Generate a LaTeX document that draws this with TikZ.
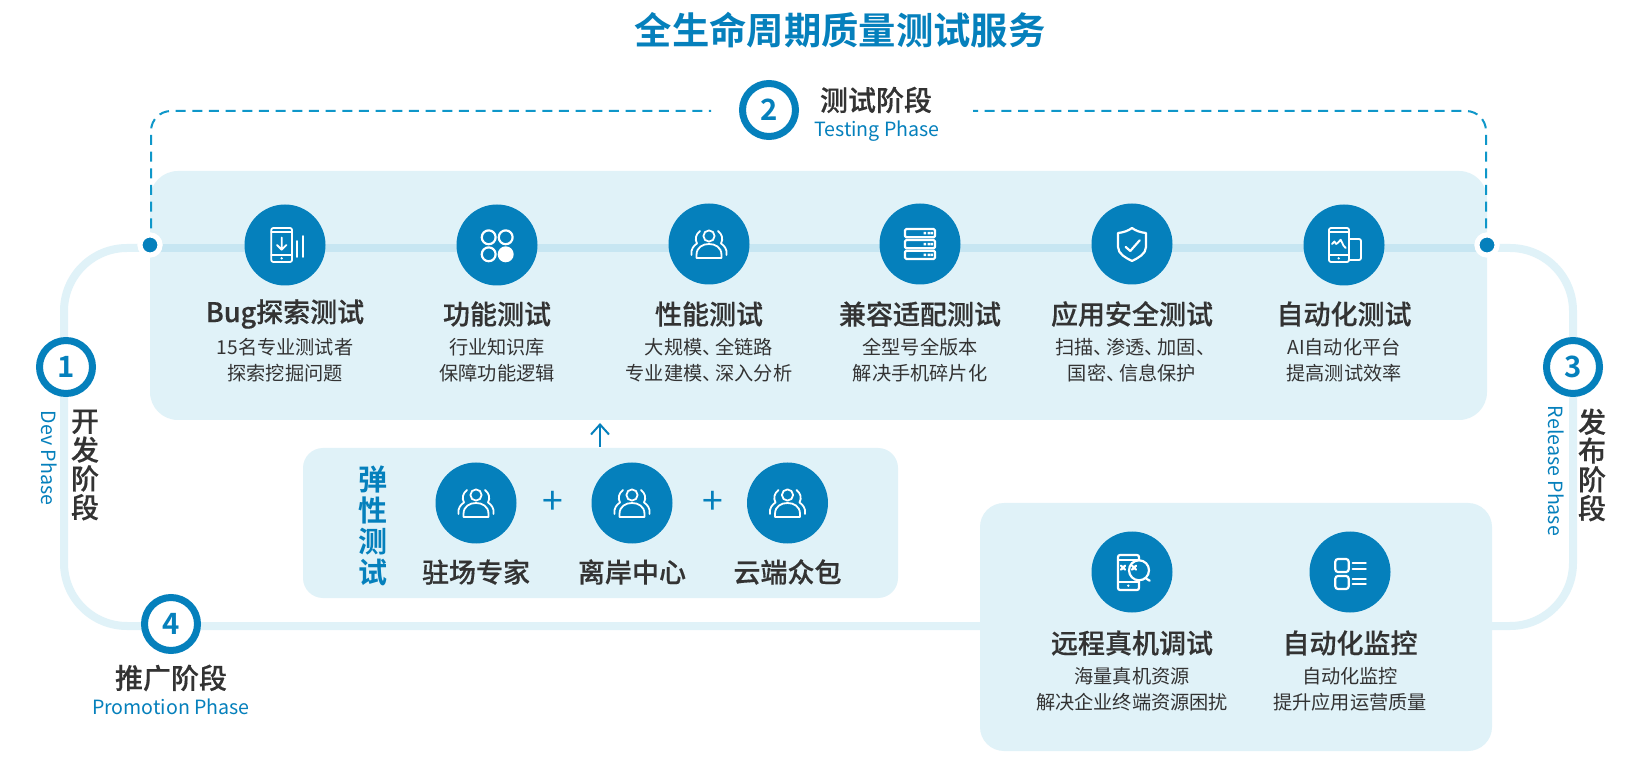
\documentclass[tikz,border=0pt]{standalone}
\usepackage{fontspec}
\setmainfont[BoldFont={Noto Sans CJK SC Bold}]{Noto Sans CJK SC}
\newfontfamily\medf[FakeBold=0.35]{Noto Sans CJK SC Medium}
\usetikzlibrary{arrows.meta}
\definecolor{bl}{HTML}{0580BC}
\definecolor{dashc}{HTML}{0F97C9}
\definecolor{pale}{HTML}{E0F2F8}
\definecolor{bandc}{HTML}{C7E6F2}
\definecolor{ink}{HTML}{333333}
\def\pxu{0.75pt}
\newcommand\fsz[2]{\fontsize{#1}{#2}\selectfont}
\newcommand\dun{、\kern-.33em\relax}
\tikzset{
  x=0.75pt,y=-0.75pt,
  panel/.style={fill=pale,draw=none,inner sep=0,outer sep=0},
  iconc/.style={circle,fill=bl,minimum size=81*\pxu,inner sep=0},
  numc/.style={circle,draw=bl,fill=white,line width=7*\pxu,minimum size=53*\pxu,inner sep=0,text=bl,font=\fsz{22}{26}\bfseries},
  head/.style={font=\medf\fsz{20.25}{24},text=ink,inner sep=0},
  sub/.style={font=\fsz{14.4}{19.5},text=ink,inner sep=0,align=center},
  en/.style={font=\fsz{14.7}{19},text=bl,inner sep=0},
  vhead/.style={font=\medf\fsz{21}{21.6},text=ink,inner sep=0,align=center},
  ln/.style={draw=white,line width=1.8*\pxu,line cap=round,line join=round},
  lnb/.style={ln,line width=2.2*\pxu},
  loopl/.style={draw=pale,line width=8*\pxu,rounded corners=63*\pxu},
  dashl/.style={draw=dashc,line width=2*\pxu,dash pattern=on 7.5pt off 5pt,rounded corners=20*\pxu},
  dotn/.style={circle,fill=bl,draw=white,line width=5*\pxu,minimum size=20*\pxu,inner sep=0},
  plusn/.style={font=\fsz{28}{28},text=bl,inner sep=0},
}
\newcommand\phoneb[3]{% left, right, dotx
  \draw[ln,rounded corners=1.5pt] (#1,-17) rectangle (#2,17);
  \draw[ln] (#1,-13) -- (#2,-13) (#1,10) -- (#2,10);
  \fill[white] (#3,13.3) circle (1.3);
}
\newcommand\people[2]{\begin{scope}[shift={(#1,#2)}]
  \draw[ln] (0,-8) circle (4.2pt);
  \draw[ln] (-12.5,14) -- (12.5,14) -- (12.5,11) .. controls (12.5,3) and (6,0) .. (0,0) .. controls (-6,0) and (-12.5,3) .. (-12.5,11) -- cycle;
  \draw[ln] (-17.5,11) .. controls (-18.5,5) and (-15,1.5) .. (-12,-0.5) .. controls (-14.5,-5) and (-13,-10) .. (-9,-13);
  \draw[ln] (17.5,11) .. controls (18.5,5) and (15,1.5) .. (12,-0.5) .. controls (14.5,-5) and (13,-10) .. (9,-13);
\end{scope}}
\begin{document}
\begin{tikzpicture}
\useasboundingbox[fill=white] (0,0) rectangle (1643,766);
% coordinates
\coordinate (lA) at (150,248);
\coordinate (lB) at (64,248);
\coordinate (lC) at (64,626);
\coordinate (lD) at (990,626);
\coordinate (rA) at (1487,248);
\coordinate (rB) at (1573,248);
\coordinate (rC) at (1573,626);
\coordinate (rD) at (1480,626);
\coordinate (dA) at (151,111);
\coordinate (dB) at (711,111);
\coordinate (dC) at (973,111);
\coordinate (dD) at (1486,111);
\coordinate (arS) at (600,447);
\coordinate (arE) at (600,423);
% loop
\draw[loopl] (lA) -- (lB) -- (lC) -- (lD);
\draw[loopl] (rA) -- (rB) -- (rC) -- (rD);
% panels
\node[panel,rounded corners=28*\pxu,minimum width=1337*\pxu,minimum height=249*\pxu] (main) at (818.5,295.5) {};
\node[panel,rounded corners=20*\pxu,minimum width=595*\pxu,minimum height=150*\pxu] (flex) at (600.5,523) {};
\node[panel,rounded corners=24*\pxu,minimum width=512*\pxu,minimum height=248*\pxu] (tool) at (1236,627) {};
% band
\fill[bandc] (150,244) rectangle (1487,252);
% dots and dashes
\node[dotn] (dl) at (150,245) {};
\node[dotn] (dr) at (1487,245) {};
\draw[dashl] (dl.center -| dA) -- (dA) -- (dB);
\draw[dashl] (dr.center -| dD) -- (dD) -- (dC);
\node[dotn] at (dl) {};
\node[dotn] at (dr) {};
% title
\node[font=\bfseries\fsz{28}{32},text=bl,inner sep=0] (title) at (840,30) {全生命周期质量测试服务};
% number circles
\node[numc] (n1) at (66,367) {1};
\node[numc] (n2) at (769,110) {2};
\node[numc] (n3) at (1573,367) {3};
\node[numc] (n4) at (171,624) {4};
% phase labels
\node[vhead] (p1) at (85,465) {开\\发\\阶\\段};
\node[en,rotate=-90] (p1e) at (49,458) {Dev Phase};
\node[head,font=\medf\fsz{21}{24}] (p2) at (876,100) {测试阶段};
\node[en] (p2e) at (877,131) {Testing Phase};
\node[vhead] (p3) at (1592,465) {发\\布\\阶\\段};
\node[en,rotate=-90] (p3e) at (1556,471) {Release Phase};
\node[head,font=\medf\fsz{21}{24}] (p4) at (171,678) {推广阶段};
\node[en] (p4e) at (171,707) {Promotion Phase};
% top row
\node[iconc] (a1) at (285,245) {};
\node[iconc] (a2) at (497,245) {};
\node[iconc] (a3) at (709,244) {};
\node[iconc] (a4) at (920,244) {};
\node[iconc] (a5) at (1132,244) {};
\node[iconc] (a6) at (1344,245) {};
\node[head] (h1) at (285,314) {Bug探索测试};
\node[head] (h2) at (497,314) {功能测试};
\node[head] (h3) at (709,314) {性能测试};
\node[head] (h4) at (920,314) {兼容适配测试};
\node[head] (h5) at (1132,314) {应用安全测试};
\node[head] (h6) at (1344,314) {自动化测试};
\node[sub] (s1) at (285,360) {15名专业测试者\\探索挖掘问题};
\node[sub] (s2) at (497,360) {行业知识库\\保障功能逻辑};
\node[sub] (s3) at (709,360) {大规模\dun 全链路\\专业建模\dun 深入分析};
\node[sub] (s4) at (920,360) {全型号全版本\\解决手机碎片化};
\node[sub] (s5) at (1132,360) {扫描\dun 渗透\dun 加固\dun\\国密\dun 信息保护};
\node[sub] (s6) at (1344,360) {AI自动化平台\\提高测试效率};
% icon 1
\begin{scope}[shift={(285,245)}]
  \phoneb{-13.7}{7}{-3.3}
  \draw[ln] (-3.3,-7.5) -- (-3.3,4.7) (-8,0) -- (-3.3,4.7) -- (1.4,0);
  \draw[ln] (12,-4) -- (12,12) (18,-9) -- (18,12);
\end{scope}
% icon 2
\begin{scope}[shift={(497,245)}]
  \draw[lnb] (-8.3,-7.7) circle (5.2pt) (8.7,-7.7) circle (5.2pt) (-8.3,9.3) circle (5.2pt);
  \fill[white] (8.7,9.3) circle (6pt);
\end{scope}
% icon 3
\people{709}{244}
% icon 4
\begin{scope}[shift={(920,244)}]
  \foreach \yy in {-15,-4,6.7} {
    \draw[lnb,rounded corners=1pt] (-15,\yy) rectangle (15,\yy+8.3);
    \fill[white] (3.5,\yy+3) rectangle (6,\yy+5.5) (7.5,\yy+3) rectangle (10,\yy+5.5) (10.5,\yy+3) rectangle (13,\yy+5.5);
  }
\end{scope}
% icon 5
\begin{scope}[shift={(1132,244)}]
  \draw[lnb] (0,-16) .. controls (-4,-13) and (-9,-11.5) .. (-14,-11) -- (-14,3) .. controls (-14,10) and (-6,14) .. (0,17) .. controls (6,14) and (14,10) .. (14,3) -- (14,-11) .. controls (9,-11.5) and (4,-13) .. (0,-16) -- cycle;
  \draw[lnb] (-6.3,3) -- (-1.7,7) -- (7.7,-3.7);
\end{scope}
% icon 6
\begin{scope}[shift={(1344,245)}]
  \phoneb{-15}{5}{-5.3}
  \draw[ln,rounded corners=1.5pt] (5,-6) -- (17,-6) -- (17,15) -- (5,15);
  \draw[ln] (-12,-1) -- (-9.5,-3.5) -- (-8,-1) -- (-6.3,-2) -- (-3.3,-5.3) -- (-1.5,-1.5) -- (-0.5,0.7) -- (1.7,3);
\end{scope}
% flex
\node[font=\bfseries\fsz{21.75}{23.25},text=bl,inner sep=0,align=center] (ft) at (373,526) {弹\\性\\测\\试};
\node[iconc] (b1) at (476,503) {};
\node[iconc] (b2) at (632,503) {};
\node[iconc] (b3) at (787.5,503) {};
\people{476}{503}
\people{632}{503}
\people{787.5}{503}
\node[plusn] (pl1) at (553,503) {+};
\node[plusn] (pl2) at (713,503) {+};
\node[head] (bh1) at (476,572) {驻场专家};
\node[head] (bh2) at (632,572) {离岸中心};
\node[head] (bh3) at (787.5,572) {云端众包};
\draw[bl,line width=2*\pxu,-{Straight Barb[length=7.5pt,width=13.5pt,line width=2*\pxu]}] (arS) -- (arE);
% tool panel
\node[iconc] (c1) at (1132,572) {};
\node[iconc] (c2) at (1350,572) {};
\node[head] (ch1) at (1132,643) {远程真机调试};
\node[head] (ch2) at (1350,643) {自动化监控};
\node[sub] (cs1) at (1132,689) {海量真机资源\\解决企业终端资源困扰};
\node[sub] (cs2) at (1350,689) {自动化监控\\提升应用运营质量};
% icon 7
\begin{scope}[shift={(1132,572)}]
  \draw[lnb,rounded corners=1.5pt] (-14,-17) rectangle (7,18);
  \draw[lnb] (-14,-12) -- (7,-12) (-14,10) -- (7,10);
  \fill[white] (-3.7,13.7) circle (1.3);
  \draw[lnb,fill=bl] (7,-1.7) circle (7.5pt);
  \draw[lnb] (14,6.5) -- (17.7,8.7);
  \draw[lnb] (-11,-6.3) -- (-7,-2.3) (-11,-2.3) -- (-7,-6.3);
  \draw[lnb] (0,-6.3) -- (4,-2.3) (0,-2.3) -- (4,-6.3);
\end{scope}
% icon 8
\begin{scope}[shift={(1350,572)}]
  \draw[lnb,rounded corners=2pt] (-14.7,-13) rectangle (-1.3,0) (-14.7,4) rectangle (-1.3,17);
  \draw[lnb] (2.7,-9) -- (15.7,-9) (2.7,-3.3) -- (15.7,-3.3) (2.7,6.7) -- (15.7,6.7) (2.7,12.3) -- (15.7,12.3);
\end{scope}
\end{tikzpicture}
\end{document}
